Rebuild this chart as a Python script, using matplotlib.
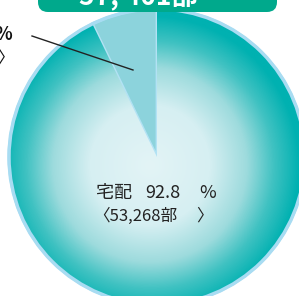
import numpy as np
import matplotlib.pyplot as plt
from matplotlib.colors import LinearSegmentedColormap
from matplotlib.patches import FancyBboxPatch

plt.rcParams['font.family'] = ['Noto Sans CJK JP', 'DejaVu Sans']

labels = ['宅配', '新聞販売店']
shares = [92.8, 7.2]
copies = ['53,268', '4,133']
total = '57,401部'

W, H = 299, 296
fig = plt.figure(figsize=(W / 100, H / 100), dpi=100)
ax = fig.add_axes([0, 0, 1, 1])

cx, cy, r = 157, H - 157, 148
wedges, _ = ax.pie(shares, startangle=90, counterclock=False, center=(cx, cy),
                   radius=r, colors=['#00b2b2', '#8cd3dc'],
                   wedgeprops=dict(edgecolor='#b2e2f4', linewidth=2))
ax.set_xlim(0, W)
ax.set_ylim(0, H)
ax.set_aspect('auto')
ax.axis('off')

# radial shading on the big slice
xx, yy = np.meshgrid(np.linspace(0, W, 300), np.linspace(0, H, 300))
d = np.hypot(xx - 150, yy - (H - 165)) / 150
cmap = LinearSegmentedColormap.from_list('g', [(0, '#e3f4f6'), (0.4, '#d6eff2'),
                                              (0.65, '#9ddbdd'), (0.83, '#40c2c2'),
                                              (1.0, '#00b1b1')])
im = ax.imshow(np.clip(d, 0, 1), cmap=cmap, vmin=0, vmax=1, extent=(0, W, 0, H),
               origin='lower', aspect='auto', zorder=1.5)
im.set_clip_path(wedges[0])

ring = plt.Circle((cx, cy), r, fill=False, edgecolor='#a8dcf2', linewidth=2.5, zorder=3)
ax.add_patch(ring)

# title box
box = FancyBboxPatch((38, H - 12), 239, 40, boxstyle='round,pad=0,rounding_size=10',
                     facecolor='#00a98c', edgecolor='none', zorder=4)
ax.add_patch(box)
ax.text(138, H - 4.5, total.replace(',', ', '), color='white', fontsize=19,
        fontweight='bold', ha='center', va='baseline', zorder=5)

# big slice label, pieces placed like the fixed-width original
tc = '#222222'
ax.text(132, H - 193, labels[0], fontsize=13, ha='right', va='center', color=tc, zorder=5)
ax.text(163, H - 193, f'{shares[0]}', fontsize=13, ha='center', va='center', color=tc, zorder=5)
ax.text(208, H - 193, '%', fontsize=13, ha='center', va='center', color=tc, zorder=5)
ax.text(93, H - 216, f'〈{copies[0]}部', fontsize=12, ha='left', va='center', color=tc, zorder=5)
ax.text(196, H - 216, '〉', fontsize=12, ha='left', va='center', color=tc, zorder=5)

# small slice label (cut off by the left edge)
ax.text(13, H - 35, f'{labels[1]} {shares[1]} %', fontsize=13, ha='right',
        va='center', color='#111111', fontweight='bold', zorder=5)
ax.text(15, H - 58, f'〈{copies[1]}部〉', fontsize=12, ha='right',
        va='center', color='#111111', zorder=5)
ax.plot([32, 133], [H - 36, H - 70], color='#222222', linewidth=1, zorder=5)

fig.savefig('out.png', dpi=100)
